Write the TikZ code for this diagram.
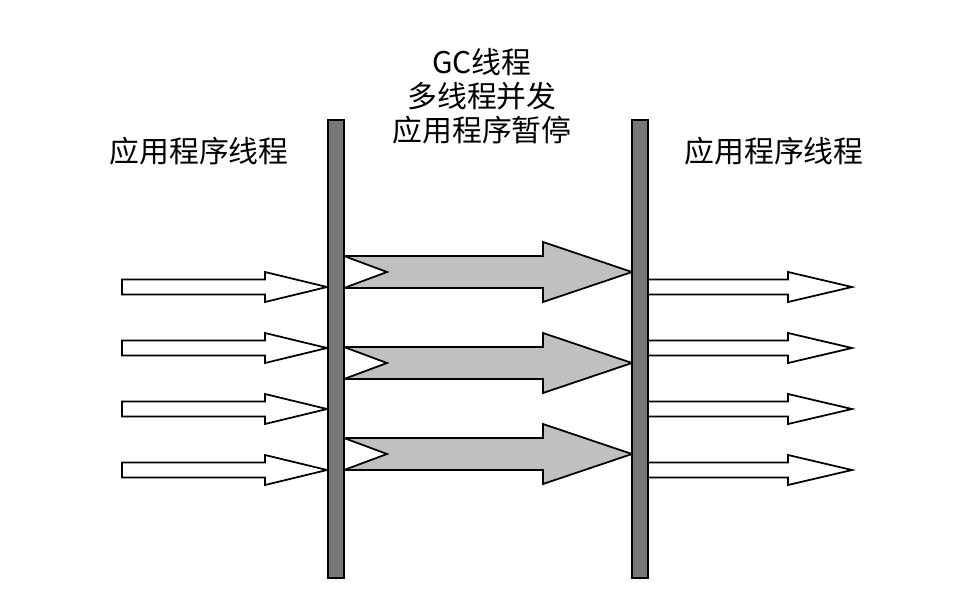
\documentclass[tikz,border=0pt]{standalone}
\usepackage{fontspec}
\newfontfamily\cjk{Noto Sans CJK SC}
\usetikzlibrary{positioning}
\definecolor{barGray}{HTML}{777777}
\definecolor{gcGray}{HTML}{C0C0C0}

\begin{document}
\begin{tikzpicture}[x=0.02cm, y=-0.02cm, font=\cjk\fontsize{17}{19.5}\selectfont,
  bar/.style={draw=black, line width=0.9pt, fill=barGray, inner sep=0pt,
    minimum width=0.32cm, minimum height=9.16cm},
  appArrow/.style={draw=black, line width=1pt, fill=white, line join=miter},
  gcArrow/.style={draw=black, line width=1pt, fill=gcGray, line join=miter},
  lbl/.style={inner sep=0pt, align=center}]
\useasboundingbox (0,0) rectangle (966,602);
% application threads before the pause
\foreach \yy in {287,348,409,470}{
  \draw[appArrow] (122,\yy-7.5) -- (265,\yy-7.5) -- (265,\yy-15) -- (327,\yy)
    -- (265,\yy+15) -- (265,\yy+7.5) -- (122,\yy+7.5) -- cycle;
}
% GC threads, running in parallel (notched arrows)
\foreach \yy in {272,363,454}{
  \draw[gcArrow] (344,\yy-16) -- (543,\yy-16) -- (543,\yy-30) -- (632,\yy)
    -- (543,\yy+30) -- (543,\yy+16) -- (344,\yy+16) -- (387,\yy) -- cycle;
}
% application threads after the pause
\foreach \yy in {287,348,409,470}{
  \draw[appArrow] (648,\yy-7.5) -- (788,\yy-7.5) -- (788,\yy-15) -- (852,\yy)
    -- (788,\yy+15) -- (788,\yy+7.5) -- (648,\yy+7.5) -- cycle;
}
% the two pause bars
\node[bar] (pauseStart) at (336,349) {};
\node[bar] (pauseEnd) at (640,349) {};
% labels
\node[lbl] (appBefore) at (199,151) {应用程序线程};
\node[lbl] (appAfter) at (774,151) {应用程序线程};
\node[lbl] (gcText) at (482,96) {GC线程\\多线程并发\\应用程序暂停};
\end{tikzpicture}
\end{document}
